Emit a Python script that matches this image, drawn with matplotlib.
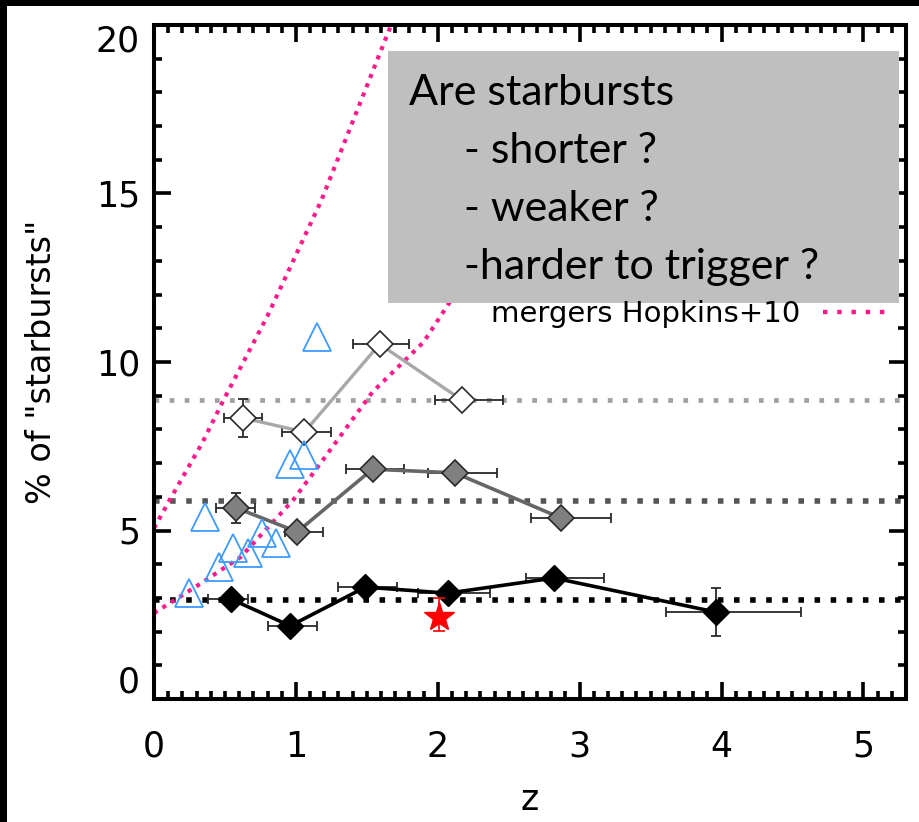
"""
Fraction of starbursts versus redshift, with the Hopkins+10 merger band.
"""

import matplotlib
matplotlib.use("Agg")
import matplotlib.pyplot as plt
from matplotlib.lines import Line2D
from matplotlib.patches import Rectangle
from matplotlib.ticker import MultipleLocator

# black diamonds
z_black = [0.54, 0.96, 1.49, 2.07, 2.82, 3.96]
f_black = [2.97, 2.17, 3.32, 3.14, 3.59, 2.58]
zlo_black = [0.38, 0.80, 1.30, 1.86, 2.62, 3.61]
zhi_black = [0.66, 1.15, 1.71, 2.37, 3.17, 4.56]
ferr_black = [0.10, 0.10, 0.12, 0.10, 0.12, 0.72]

# grey diamonds
z_grey = [0.58, 1.01, 1.54, 2.12, 2.87]
f_grey = [5.67, 4.96, 6.82, 6.71, 5.37]
zlo_grey = [0.44, 0.92, 1.35, 1.93, 2.66]
zhi_grey = [0.71, 1.19, 1.76, 2.42, 3.22]
ferr_grey = [0.45, 0.08, 0.08, 0.08, 0.08]

# open diamonds
z_open = [0.63, 1.06, 1.59, 2.17]
f_open = [8.34, 7.92, 10.53, 8.87]
zlo_open = [0.49, 0.90, 1.40, 1.98]
zhi_open = [0.76, 1.25, 1.80, 2.46]
ferr_open = [0.57, 0.08, 0.08, 0.08]

# reference levels
level_black = 2.94
level_grey = 5.88
level_open = 8.87

# open triangles
z_tri = [1.15, 0.96, 1.06, 0.36, 0.76, 0.86, 0.56, 0.66, 0.46, 0.25]
f_tri = [10.74, 6.97, 7.24, 5.40, 4.93, 4.63, 4.48, 4.33, 3.92, 3.15]

# red star
z_star = [2.01]
f_star = [2.43]
ferr_star_lo = [0.41]
ferr_star_hi = [0.57]

# Hopkins+10 mergers, upper and lower envelopes
z_hop_up = [0.0, 0.11, 0.34, 0.49, 0.80, 1.18, 1.64, 1.72]
f_hop_up = [5.07, 5.90, 7.60, 8.87, 11.37, 14.80, 19.67, 20.50]
z_hop_lo = [0.0, 0.29, 0.61, 0.98, 1.18, 1.54, 1.90, 2.08, 2.40, 2.80]
f_hop_lo = [2.55, 3.32, 4.21, 5.90, 7.03, 9.11, 10.59, 11.75, 14.0, 17.0]

box_lines = ["Are starbursts", "- shorter ?", "- weaker ?", "-harder to trigger ?"]
box_indent = [False, True, True, True]

PINK = "#ff1a8c"
BLUE = "#3d9bff"
EDGE = "#2a2a2a"


def xerr_of(z, lo, hi):
    return [[c - a for c, a in zip(z, lo)], [b - c for c, b in zip(z, hi)]]


fig = plt.figure(figsize=(9.2, 8.22), dpi=100)
ax = fig.add_axes([154 / 920, 1 - 699 / 822, 752 / 920, 674 / 822])

# frame strips along the left and top
fig.patches.append(Rectangle((0, 0), 7 / 920, 1, transform=fig.transFigure,
                             facecolor="black", edgecolor="none", zorder=0))
fig.patches.append(Rectangle((0, 1 - 6 / 822), 1, 6 / 822, transform=fig.transFigure,
                             facecolor="black", edgecolor="none", zorder=0))

# merger envelopes
for zz, ff in [(z_hop_up, f_hop_up), (z_hop_lo, f_hop_lo)]:
    ax.plot(zz, ff, color=PINK, lw=3.0, dashes=(1, 1.4), zorder=2)

# dotted reference levels
ax.axhline(level_open, color="#a0a0a0", lw=3.4, dashes=(1, 2.2), zorder=1)
ax.axhline(level_grey, color="#555555", lw=4.0, dashes=(1, 1.9), zorder=1)
ax.axhline(level_black, color="black", lw=4.0, dashes=(1, 1.9), zorder=1)

ebar = dict(fmt="none", ecolor=EDGE, elinewidth=1.3, capsize=3.5, capthick=1.3, zorder=3)

ax.errorbar(z_open, f_open, xerr=xerr_of(z_open, zlo_open, zhi_open), yerr=ferr_open, **ebar)
ax.plot(z_open, f_open, color="#a8a8a8", lw=2.4, zorder=4)
ax.plot(z_open, f_open, ls="none", marker="D", ms=13.5, mfc="white", mec=EDGE, mew=1.2, zorder=5)

ax.errorbar(z_grey, f_grey, xerr=xerr_of(z_grey, zlo_grey, zhi_grey), yerr=ferr_grey, **ebar)
ax.plot(z_grey, f_grey, color="#666666", lw=2.6, zorder=4)
ax.plot(z_grey, f_grey, ls="none", marker="D", ms=13, mfc="#808080", mec=EDGE, mew=1.2, zorder=5)

ax.errorbar(z_black, f_black, xerr=xerr_of(z_black, zlo_black, zhi_black), yerr=ferr_black, **ebar)
ax.plot(z_black, f_black, color="black", lw=2.6, zorder=4)
ax.plot(z_black, f_black, ls="none", marker="D", ms=13, mfc="black", mec="black", zorder=5)

ax.plot(z_tri, f_tri, ls="none", marker="^", ms=20, mfc="none", mec=BLUE, mew=1.3, zorder=6)

ax.errorbar(z_star, f_star, yerr=[ferr_star_lo, ferr_star_hi], fmt="none", ecolor="red",
            elinewidth=1.2, capsize=4, capthick=1.2, zorder=6)
ax.plot(z_star, f_star, ls="none", marker="*", ms=22, color="red", mec="red", zorder=7)

# question box
ax.add_patch(Rectangle((0.311, 0.5875), 0.68, 0.3735, transform=ax.transAxes,
                       facecolor="#bfbfbf", edgecolor="none", zorder=8))
for i, (line, indent) in enumerate(zip(box_lines, box_indent)):
    ax.text(0.412 if indent else 0.339, 0.881 - i * 0.086, line, transform=ax.transAxes,
            fontsize=31, family="Lato", va="baseline", ha="left", zorder=9)

proxy = Line2D([], [], color=PINK, lw=3.2, dashes=(1, 2.2))
leg = ax.legend([proxy], ["mergers Hopkins+10"], loc="center right",
                bbox_to_anchor=(0.987, 0.571), frameon=False, markerfirst=False,
                fontsize=21, handlelength=2.1, handletextpad=0.8, borderaxespad=0)
leg.set_zorder(9)

ax.set_xlim(0, 5.3)
ax.set_ylim(0, 20)
ax.xaxis.set_major_locator(MultipleLocator(1))
ax.xaxis.set_minor_locator(MultipleLocator(0.1))
ax.yaxis.set_major_locator(MultipleLocator(5))
ax.yaxis.set_minor_locator(MultipleLocator(1))
ax.tick_params(which="both", direction="in", top=True, right=True, width=2.6, labelsize=25)
ax.tick_params(which="major", length=12)
ax.tick_params(which="minor", length=6)
ax.tick_params(axis="x", which="major", pad=22)
ax.tick_params(axis="y", which="major", pad=10)
for sp in ax.spines.values():
    sp.set_linewidth(2.9)

# keep the end labels of the y axis inside the frame height
fig.canvas.draw()
for tick in ax.yaxis.get_major_ticks():
    if abs(tick.get_loc()) < 1e-9:
        tick.label1.set_va("bottom")
    elif abs(tick.get_loc() - 20) < 1e-9:
        tick.label1.set_va("top")

ax.set_xlabel("z", fontsize=25, labelpad=14)
ax.set_ylabel('% of "starbursts"', fontsize=24)
ax.yaxis.set_label_coords(-0.128, 0.5)

fig.savefig("out.png", dpi=100)
